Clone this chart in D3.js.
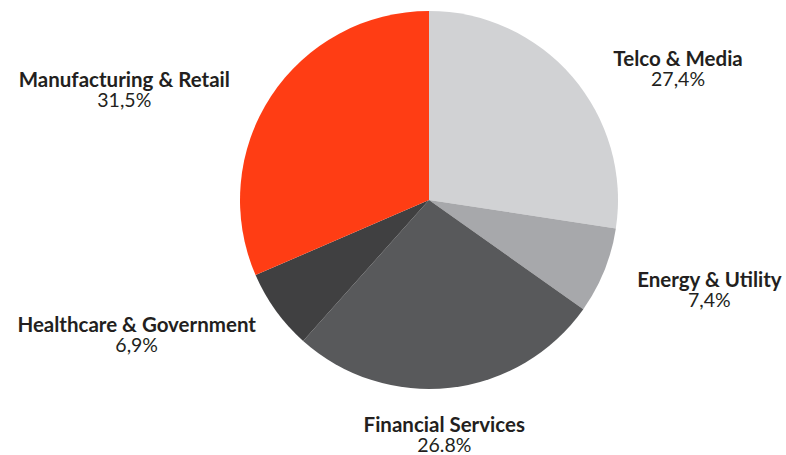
<!DOCTYPE html>
<meta charset="utf-8">
<script src="https://d3js.org/d3.v7.min.js"></script>
<style>
  body { margin: 0; background: #fff; }
  text { font-family: Lato, "Open Sans", sans-serif; fill: #231f20; }
</style>
<div id="my_dataviz"></div>
<script>

// data, clockwise from 12 o'clock
var categories = ["Telco & Media", "Energy & Utility", "Financial Services", "Healthcare & Government", "Manufacturing & Retail"];
var shares = [27.4, 7.4, 26.8, 6.9, 31.5];
var shareLabels = ["27,4%", "7,4%", "26.8%", "6,9%", "31,5%"];
var colors = ["#d1d2d4", "#a7a8ab", "#58595b", "#404041", "#ff3d14"];

var width = 786, height = 455,
    cx = 429, cy = 200, radius = 189;

var svg = d3.select("#my_dataviz")
  .append("svg")
    .attr("width", width)
    .attr("height", height);

var g = svg.append("g")
    .attr("transform", "translate(" + cx + "," + cy + ")");

var pie = d3.pie()
  .sort(null)
  .value(function(d) { return d; });

var arcs = pie(shares);

var arc = d3.arc()
  .innerRadius(0)
  .outerRadius(radius);

g.selectAll("path")
  .data(arcs)
  .enter()
  .append("path")
    .attr("d", arc)
    .attr("fill", function(d, i) { return colors[i]; });

// labels: start from the mid-angle point just outside the pie, then shift into place
var labelArc = d3.arc().innerRadius(215).outerRadius(215);
var nudge = [[86, 6], [81, 7], [-9, 18], [-118, 6], [-125, 5]];

var labels = g.selectAll(".label")
  .data(arcs)
  .enter()
  .append("g")
    .attr("class", "label")
    .attr("transform", function(d, i) {
      var c = labelArc.centroid(d);
      return "translate(" + (c[0] + nudge[i][0]) + "," + (c[1] + nudge[i][1]) + ")";
    });

labels.append("text")
    .attr("text-anchor", "middle")
    .style("font-weight", "bold")
    .style("font-size", "20.5px")
    .text(function(d, i) { return categories[i]; });

labels.append("text")
    .attr("text-anchor", "middle")
    .attr("y", 20)
    .style("font-size", "19.5px")
    .text(function(d, i) { return shareLabels[i]; });

</script>
